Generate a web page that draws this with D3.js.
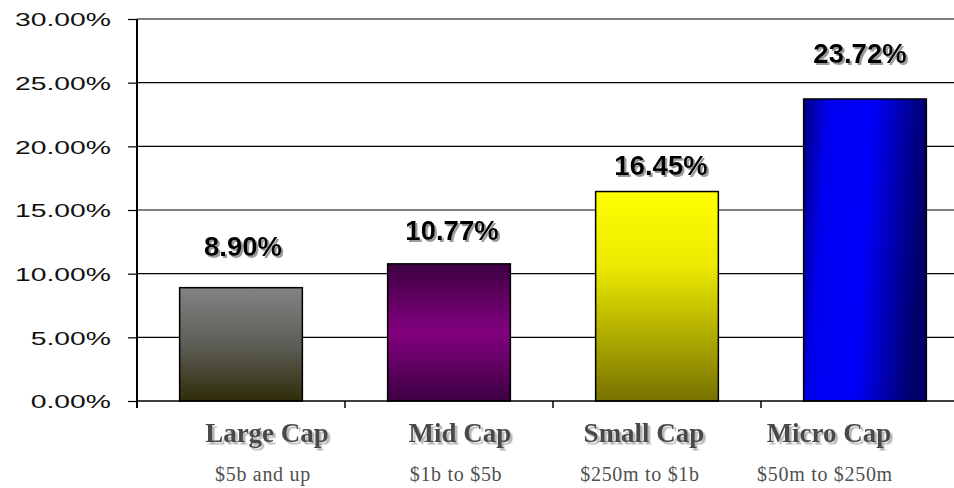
<!DOCTYPE html>
<html>
<head>
<meta charset="utf-8">
<script src="https://cdn.jsdelivr.net/npm/d3@7"></script>
<style>
  html, body { margin: 0; padding: 0; background: #fff; }
  svg { display: block; }
</style>
</head>
<body>
<svg id="chart" width="954" height="488"></svg>
<script>
// Average annual return by market-cap segment
const categories = ["Large Cap", "Mid Cap", "Small Cap", "Micro Cap"];
const capRanges = ["$5b and up", "$1b to $5b", "$250m to $1b", "$50m to $250m"];
const returns = [0.0890, 0.1077, 0.1645, 0.2372];
const yTicks = [0, 0.05, 0.10, 0.15, 0.20, 0.25, 0.30];

// Hand-placed nudges for the value labels and the category captions (px)
const valueLabelLift = [32, 24, 16.5, 36];
const valueLabelShift = [2, 3, 4, -5];
const captionShift = [26, 11, -13, -36];

const svg = d3.select("#chart");
const plotLeft = 137, plotRight = 969, plotTop = 19, plotBottom = 401;

const x = d3.scaleBand()
  .domain(categories)
  .range([plotLeft, plotRight])
  .paddingInner(0.41)
  .paddingOuter(0.205);

const y = d3.scaleLinear()
  .domain([0, 0.30])
  .range([plotBottom, plotTop]);

const pct = d3.format(".2%");

const defs = svg.append("defs");

// Soft drop shadows for the labels
function addShadow(id, color, off) {
  defs.append("filter")
    .attr("id", id)
    .attr("x", "-10%").attr("y", "-30%")
    .attr("width", "130%").attr("height", "170%")
    .append("feDropShadow")
    .attr("dx", off).attr("dy", off)
    .attr("stdDeviation", 0.5)
    .attr("flood-color", color)
    .attr("flood-opacity", 1);
}
addShadow("shadowValue", "#9a9a9a", 2);
addShadow("shadowCaption", "#b8b8b8", 2.5);

// Gradients for each bar
const gradients = [
  { id: "gLarge", x2: "0", y2: "1", stops: [[0, "#828282"], [0.5, "#5e5e58"], [1, "#2f2d08"]] },
  { id: "gMid", x2: "0", y2: "1", stops: [[0, "#3d0042"], [0.5, "#82007f"], [1, "#3d0042"]] },
  { id: "gSmall", x2: "0", y2: "1", stops: [[0, "#ffff00"], [0.35, "#ecea00"], [1, "#777200"]] },
  { id: "gMicro", x2: "1", y2: "0.15", stops: [[0, "#000080"], [0.2, "#0000f0"], [0.55, "#0000fa"], [1, "#00006a"]] }
];
gradients.forEach(g => {
  const lg = defs.append("linearGradient")
    .attr("id", g.id)
    .attr("x1", "0").attr("y1", "0")
    .attr("x2", g.x2).attr("y2", g.y2);
  g.stops.forEach(s => lg.append("stop").attr("offset", s[0]).attr("stop-color", s[1]));
});
const fills = ["url(#gLarge)", "url(#gMid)", "url(#gSmall)", "url(#gMicro)"];

// Horizontal gridlines
svg.append("g")
  .selectAll("line")
  .data(yTicks.slice(1))
  .join("line")
  .attr("x1", plotLeft).attr("x2", plotRight)
  .attr("y1", d => y(d)).attr("y2", d => y(d))
  .attr("stroke", "#000")
  .attr("stroke-width", 1.2);

// Y axis
const yAxis = svg.append("g")
  .attr("transform", `translate(${plotLeft},0)`)
  .call(d3.axisLeft(y).tickValues(yTicks).tickFormat(pct).tickSize(9).tickSizeOuter(0));
yAxis.select(".domain").remove();
yAxis.selectAll(".tick line").attr("stroke", "#000").attr("stroke-width", 1.2);
yAxis.selectAll(".tick text")
  .attr("x", null)
  .attr("dy", "0.37em")
  .attr("text-anchor", "end")
  .attr("transform", "translate(-26,0) scale(1.53,1)")
  .attr("font-family", "'Liberation Sans', Arial, sans-serif")
  .attr("font-size", 18.5)
  .attr("fill", "#111");

// Vertical axis line
svg.append("line")
  .attr("x1", plotLeft).attr("x2", plotLeft)
  .attr("y1", plotTop).attr("y2", plotBottom + 7)
  .attr("stroke", "#000").attr("stroke-width", 2);

// Bars
svg.append("g")
  .selectAll("rect")
  .data(returns)
  .join("rect")
  .attr("x", (d, i) => x(categories[i]))
  .attr("width", x.bandwidth())
  .attr("y", d => y(d))
  .attr("height", d => y(0) - y(d))
  .attr("fill", (d, i) => fills[i])
  .attr("stroke", "#000")
  .attr("stroke-width", 1.5);

// X axis baseline and category boundary ticks
svg.append("line")
  .attr("x1", plotLeft).attr("x2", plotRight)
  .attr("y1", y(0)).attr("y2", y(0))
  .attr("stroke", "#000").attr("stroke-width", 1.5);
const gap = (x.step() - x.bandwidth()) / 2;
const boundaries = categories.map(c => x(c) - gap).concat([x(categories[categories.length - 1]) + x.bandwidth() + gap]);
svg.append("g")
  .selectAll("line")
  .data(boundaries.slice(1))
  .join("line")
  .attr("x1", d => d).attr("x2", d => d)
  .attr("y1", y(0)).attr("y2", y(0) + 7)
  .attr("stroke", "#000").attr("stroke-width", 1.5);

// Value labels
svg.append("g")
  .attr("filter", "url(#shadowValue)")
  .selectAll("text")
  .data(returns)
  .join("text")
  .attr("x", (d, i) => x(categories[i]) + x.bandwidth() / 2 + valueLabelShift[i])
  .attr("y", (d, i) => y(d) - valueLabelLift[i])
  .attr("text-anchor", "middle")
  .attr("font-family", "'Liberation Sans', Arial, sans-serif")
  .attr("font-weight", "bold")
  .attr("font-size", 27.5)
  .attr("fill", "#000")
  .text(d => pct(d));

// Category captions
const serif = "'Liberation Serif', 'Times New Roman', serif";
svg.append("g")
  .attr("filter", "url(#shadowCaption)")
  .selectAll("text")
  .data(categories)
  .join("text")
  .attr("x", (d, i) => x(d) + x.bandwidth() / 2 + captionShift[i])
  .attr("y", 442)
  .attr("text-anchor", "middle")
  .attr("font-family", serif)
  .attr("font-weight", "bold")
  .attr("font-size", 27)
  .attr("fill", "#4a4a4a")
  .text(d => d);

// Market-cap ranges
svg.append("g")
  .selectAll("text")
  .data(capRanges)
  .join("text")
  .attr("x", (d, i) => x(categories[i]) + x.bandwidth() / 2 + captionShift[i] - 4)
  .attr("y", 481)
  .attr("text-anchor", "middle")
  .attr("font-family", serif)
  .attr("font-size", 20)
  .attr("letter-spacing", 0.7)
  .attr("fill", "#505050")
  .text(d => d);
</script>
</body>
</html>
